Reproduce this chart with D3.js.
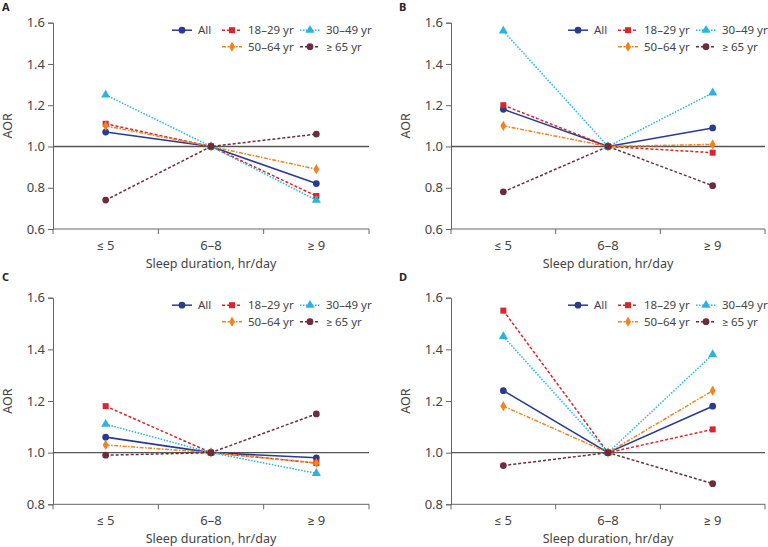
<!DOCTYPE html>
<html><head><meta charset="utf-8">
<script src="https://cdn.jsdelivr.net/npm/d3@7"></script>
<style>body{margin:0;background:#fff}svg{display:block}text{font-family:"Noto Sans",Roboto,sans-serif}</style>
</head><body>
<svg id="c" width="768" height="547"></svg>
<script>
const categories = ["≤ 5", "6–8", "≥ 9"];
const seriesNames = ["All", "18–29 yr", "30–49 yr", "50–64 yr", "≥ 65 yr"];
const panelLetters = ["A", "B", "C", "D"];
const yDomains = [[0.6, 1.6], [0.6, 1.6], [0.8, 1.6], [0.8, 1.6]];
const yTicks = [[0.6, 0.8, 1.0, 1.2, 1.4, 1.6], [0.6, 0.8, 1.0, 1.2, 1.4, 1.6], [0.8, 1.0, 1.2, 1.4, 1.6], [0.8, 1.0, 1.2, 1.4, 1.6]];
// values per panel: [All, 18–29, 30–49, 50–64, ≥65]
const panelA = [[1.07, 1.0, 0.82], [1.11, 1.0, 0.76], [1.25, 1.0, 0.74], [1.10, 1.0, 0.89], [0.74, 1.0, 1.06]];
const panelB = [[1.18, 1.0, 1.09], [1.20, 1.0, 0.97], [1.56, 1.0, 1.26], [1.10, 1.0, 1.01], [0.78, 1.0, 0.81]];
const panelC = [[1.06, 1.0, 0.98], [1.18, 1.0, 0.96], [1.11, 1.0, 0.92], [1.03, 1.0, 0.96], [0.99, 1.0, 1.15]];
const panelD = [[1.24, 1.0, 1.18], [1.55, 1.0, 1.09], [1.45, 1.0, 1.38], [1.18, 1.0, 1.24], [0.95, 1.0, 0.88]];
const panels = [panelA, panelB, panelC, panelD];

const colors = ["#2a3b8f", "#d9252b", "#27b4e3", "#f08220", "#6d2c3b"];
const dashes = [null, "3,2", "1.5,1.5", "4,1.5,1.5,1.5", "3,2"];
const shapes = [d3.symbolCircle, d3.symbolSquare, d3.symbolTriangle, d3.symbolDiamond, d3.symbolCircle];
const sizes = [36, 36, 36, 30, 36];

const boxes = [
  {l: 53, r: 369, t: 22.7, b: 229, ox: 0, oy: 0},
  {l: 451, r: 765, t: 22.7, b: 229, ox: 384, oy: 0},
  {l: 53, r: 369, t: 297.7, b: 504.3, ox: 0, oy: 270},
  {l: 451, r: 765, t: 297.7, b: 504.3, ox: 384, oy: 270}
];

const svg = d3.select("#c");
const axisColor = "#666";

panels.forEach((data, pi) => {
  const bx = boxes[pi];
  const g = svg.append("g");
  const x = d3.scaleBand().domain(categories).range([bx.l, bx.r]);
  const y = d3.scaleLinear().domain(yDomains[pi]).range([bx.b, bx.t]);

  // y axis
  const ya = g.append("g").attr("transform", `translate(${bx.l},0)`)
    .call(d3.axisLeft(y).tickValues(yTicks[pi]).tickFormat(d3.format(".1f")).tickSizeOuter(0).tickSize(5).tickPadding(3));
  ya.select(".domain").attr("stroke", axisColor);
  ya.selectAll(".tick line").attr("stroke", axisColor);
  ya.selectAll("text").attr("font-size", 13).attr("fill", "#444");

  // x axis: ticks at band boundaries
  const xa = g.append("g").attr("transform", `translate(0,${bx.b})`);
  xa.append("line").attr("x1", bx.l).attr("x2", bx.r).attr("stroke", axisColor);
  const bounds = categories.map(c => x(c)).concat([bx.r]);
  xa.selectAll("line.tk").data(bounds).join("line").attr("class", "tk")
    .attr("x1", d => d).attr("x2", d => d).attr("y1", 0).attr("y2", 5).attr("stroke", axisColor);
  xa.selectAll("text").data(categories).join("text")
    .attr("x", d => x(d) + x.bandwidth() / 2).attr("y", 21)
    .attr("text-anchor", "middle").attr("font-size", 13).attr("fill", "#444").text(d => d);

  // titles
  g.append("text").attr("x", (bx.l + bx.r) / 2).attr("y", bx.b + 39).attr("text-anchor", "middle")
    .attr("font-size", 12.5).attr("fill", "#444").text("Sleep duration, hr/day");
  g.append("text").attr("transform", `translate(${bx.l - 41},${(bx.t + bx.b) / 2}) rotate(-90)`)
    .attr("text-anchor", "middle").attr("font-size", 12.5).attr("fill", "#444").text("AOR");
  g.append("text").attr("x", bx.ox + (pi % 2 ? 15 : 2)).attr("y", bx.oy + 11)
    .attr("font-size", 11).attr("font-weight", "bold").attr("fill", "#222").text(panelLetters[pi]);

  // reference line
  g.append("line").attr("x1", bx.l).attr("x2", bx.r).attr("y1", y(1)).attr("y2", y(1))
    .attr("stroke", "#555").attr("stroke-width", 1.3);

  // series
  const line = d3.line().x((d, i) => x(categories[i]) + x.bandwidth() / 2).y(d => y(d));
  data.forEach((vals, si) => {
    g.append("path").attr("d", line(vals)).attr("fill", "none").attr("stroke", colors[si])
      .attr("stroke-width", si === 0 ? 1.6 : 1.5).attr("stroke-dasharray", dashes[si]);
  });
  data.forEach((vals, si) => {
    g.selectAll(null).data(vals).join("path")
      .attr("transform", (d, i) => `translate(${x(categories[i]) + x.bandwidth() / 2},${y(d)})`)
      .attr("d", d3.symbol().type(shapes[si]).size(sizes[si])).attr("fill", colors[si]);
  });

  // legend
  const cols = [bx.r - 197, bx.r - 147, bx.r - 69];
  const pos = [[0, 0], [1, 0], [2, 0], [1, 1], [2, 1]];
  seriesNames.forEach((name, si) => {
    const lx = cols[pos[si][0]], ly = bx.t + 7.5 + pos[si][1] * 16.5;
    const lg = g.append("g");
    lg.append("line").attr("x1", lx).attr("x2", lx + 20).attr("y1", ly).attr("y2", ly)
      .attr("stroke", colors[si]).attr("stroke-width", 1.5).attr("stroke-dasharray", dashes[si]);
    lg.append("path").attr("transform", `translate(${lx + 10},${ly})`)
      .attr("d", d3.symbol().type(shapes[si]).size(sizes[si])).attr("fill", colors[si]);
    lg.append("text").attr("x", lx + 26).attr("y", ly + 4).attr("font-size", 11.5).attr("fill", "#444").text(name);
  });
});
</script>
</body></html>
